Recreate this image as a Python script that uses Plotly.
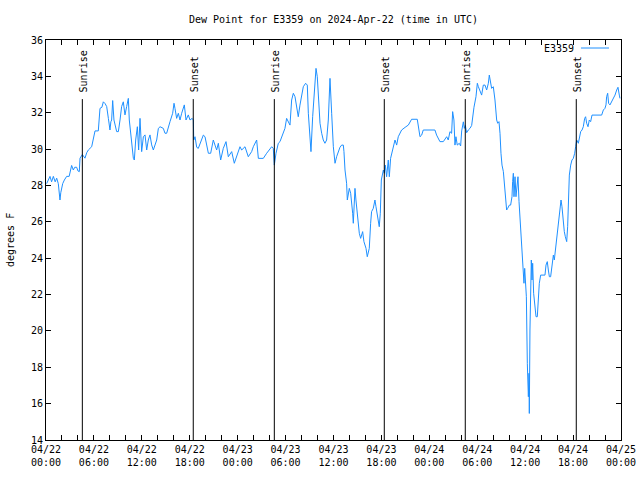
import pandas as pd
import plotly.graph_objects as go

start = pd.Timestamp("2024-04-22 00:00")
end = pd.Timestamp("2024-04-25 00:00")

# hours since 2024-04-22 00:00 UTC
hours = [
    0.08, 0.3, 0.5, 0.7, 0.92, 1.15, 1.34, 1.54, 1.65, 1.75, 1.85, 2.09, 2.3, 2.59, 2.9,
    3.21, 3.42, 3.6, 3.84, 4.0, 4.17, 4.26, 4.55, 4.7, 4.88, 5.1, 5.3, 5.72, 5.93, 6.14,
    6.55, 6.76, 7.0, 7.18, 7.4, 7.6, 7.81, 8.01, 8.12, 8.22, 8.35, 8.51, 8.85, 9.06, 9.27,
    9.47, 9.68, 9.89, 10.10, 10.31, 10.43, 10.60, 10.73, 10.94, 11.06, 11.23, 11.44, 11.60,
    11.77, 11.98, 12.19, 12.40, 12.61, 12.81, 13.02, 13.23, 13.44, 13.65, 13.86, 14.07,
    14.28, 14.69, 14.90, 15.11, 15.32, 15.53, 15.86, 16.03, 16.15, 16.36, 16.57, 16.78,
    16.99, 17.20, 17.32, 17.53, 17.82, 18.03, 18.3, 18.45, 18.5, 18.66, 18.87,
    19.07, 19.28, 19.70, 19.91, 20.33, 20.62, 20.95, 21.16, 21.37, 21.58, 21.87, 22.20,
    22.54, 22.83, 23.25, 23.58, 23.87, 24.29, 24.50, 24.92, 25.33, 25.75, 25.96, 26.38,
    26.59, 27.21, 27.63, 28.26, 28.46, 28.59, 28.80, 29.09, 29.30, 29.63, 29.92, 30.13,
    30.34, 30.55, 30.76, 30.97, 31.18, 31.39, 31.59, 31.80, 32.01, 32.22, 32.51, 32.72,
    32.85, 33.05, 33.18, 33.39, 33.56, 33.81, 33.97, 34.10, 34.31, 34.52, 34.72, 34.93,
    35.14, 35.35, 35.56, 35.77, 35.98, 36.19, 36.39, 36.81, 37.02, 37.23, 37.31, 37.44,
    37.64, 37.73, 37.98,
    38.15, 38.27, 38.40, 38.48, 38.69, 38.81, 38.98, 39.11, 39.23, 39.40, 39.65, 39.81,
    40.07, 40.23, 40.48, 40.65, 40.77, 40.98, 41.19, 41.32, 41.48, 41.61, 41.73, 41.86,
    41.99, 42.24, 42.36, 42.49, 42.65, 42.86, 42.99, 43.15, 43.40, 43.70, 43.91, 44.11,
    44.53, 44.74, 45.07, 45.37, 45.78, 46.49, 46.66, 46.83, 47.04, 47.24, 48.70, 48.91,
    49.33, 49.75, 50.17, 50.37, 50.58, 50.79, 50.92, 51.08, 51.21, 51.33, 51.50, 51.75,
    51.92,
    52.05, 52.26, 52.38, 52.51, 52.67, 52.88, 53.09, 53.30, 53.43, 53.59, 53.84, 54.01,
    54.14, 54.34, 54.55, 54.76, 54.97, 55.18, 55.39, 55.51, 55.68, 55.80, 56.01, 56.22,
    56.43, 56.56, 56.72, 56.85, 56.97, 57.10, 57.27, 57.39, 57.56, 57.68, 57.81, 58.02,
    58.18, 58.35, 58.43, 58.52, 58.60, 58.73, 58.85, 59.02, 59.10, 59.23, 59.35, 59.48,
    59.60, 59.73, 59.85, 59.94, 60.02, 60.15, 60.27, 60.40, 60.48, 60.52, 60.60, 60.69,
    60.77, 60.86, 60.94, 61.06, 61.19, 61.36, 61.52, 61.65, 61.77, 61.94, 62.27, 62.48,
    62.61, 62.77, 62.90, 63.03, 63.19, 63.36, 63.53, 63.65, 63.78, 63.94, 64.11, 64.28,
    64.36, 64.49, 64.61, 64.78, 64.90, 65.03, 65.20, 65.32, 65.45, 65.53, 65.70, 65.86,
    66.03, 66.20, 66.32, 66.45, 66.66, 66.78, 66.95, 67.12, 67.28, 67.45, 67.57, 67.70,
    67.87, 68.03, 68.20, 68.37, 68.74, 69.58, 69.79, 69.99, 70.12, 70.20, 70.33, 70.45,
    70.62, 70.83, 71.04, 71.25, 71.46, 71.62, 71.79, 71.87,
]

dew_point_f = [
    28.1, 28.3, 28.5, 28.2, 28.5, 28.2, 28.4, 28.1, 27.5, 27.2, 27.6, 28.1, 28.3, 28.5, 28.5,
    29.1, 28.85, 29.0, 29.0, 28.8, 28.76, 29.5, 29.7, 29.6, 29.5, 29.8, 29.95, 30.13, 30.68, 31.0,
    31.0, 32.24, 32.3, 32.6, 32.5, 32.34, 31.69, 31.05, 31.5, 31.6, 32.67, 31.6, 30.96, 30.96, 31.6,
    32.34, 32.6, 31.88, 32.34, 32.79, 31.6, 30.87, 30.32, 29.49, 29.4, 30.5, 31.23, 29.95,
    31.69, 29.86, 30.68, 30.78, 29.95, 30.5, 30.78, 30.23, 29.95, 30.23, 30.5, 31.14,
    31.23, 31.14, 30.87, 30.87, 31.23, 31.51, 31.97, 32.52, 32.24, 31.69, 31.97, 31.6,
    31.97, 32.24, 32.43, 31.6, 31.88, 31.6, 31.69, 31.6, 30.5, 30.68, 30.1,
    30.04, 30.32, 30.77, 30.68, 29.77, 29.77, 30.50, 30.22, 29.95, 30.32, 29.40, 30.04,
    30.41, 29.58, 29.86, 29.22, 29.58, 30.13, 29.95, 30.13, 29.58, 29.86, 30.13, 30.50,
    29.49, 29.49, 29.77, 30.13, 30.04, 29.12, 29.77, 30.32, 30.41, 30.87, 31.14, 31.69,
    31.51, 31.32, 32.70, 33.07, 32.88, 32.42, 31.78, 32.42, 33.07, 33.43, 33.62, 33.52,
    31.97, 30.68, 29.86, 31.78, 32.88, 34.44, 33.98, 32.88, 31.42, 30.87, 30.50, 30.32,
    30.50, 31.60, 33.89, 31.97, 30.13, 29.22, 29.58, 30.1, 30.22, 30.22, 29.86, 28.85,
    28.12, 27.20, 27.84,
    27.57, 27.11, 26.47, 25.92, 27.84, 27.20, 26.28, 26.01, 25.37, 25.09, 25.46, 24.91,
    24.54, 24.08, 24.54, 25.92, 26.56, 26.74, 27.20, 26.83, 26.47, 26.10, 25.73, 26.47,
    28.30, 28.85, 28.67, 29.12, 28.48, 29.40, 28.48, 29.49, 30.04, 30.50, 30.22, 30.68,
    31.05, 31.14, 31.23, 31.32, 31.64, 31.64, 31.05, 30.68, 30.77, 31.05, 31.05, 30.77,
    30.41, 30.41, 30.68, 30.50, 30.96, 30.87, 32.06, 31.60, 30.22, 30.68, 30.22, 30.32,
    30.17,
    31.0, 31.5, 31.14, 31.3, 30.9, 31.05, 31.14, 31.3, 31.87, 32.3, 32.88, 33.62,
    33.43, 33.16, 32.97, 33.52, 33.52, 33.25, 33.62, 34.07, 33.52, 33.34, 33.43, 32.70,
    31.60, 31.42, 31.51, 30.87, 29.77, 29.12, 28.76, 28.02, 27.47, 26.65, 26.74, 26.92,
    26.92, 27.38, 28.21, 28.67, 27.38, 28.48, 27.38, 28.02, 28.48, 27.11, 26.10, 25.00,
    24.08, 22.98, 22.62, 23.44, 22.62, 21.88, 18.22, 16.38, 17.67, 15.46, 20.05, 21.88,
    23.90, 22.80, 23.72, 22.07, 21.51, 20.78, 20.78, 21.88, 22.62, 23.07, 23.07, 23.07,
    23.62, 23.81, 23.35, 22.98, 22.98, 23.72, 24.17, 23.90, 24.45, 25.00, 25.64, 26.28,
    26.92, 27.20, 26.83, 25.92, 25.46, 25.18, 24.91, 25.73, 27.38, 28.57, 29.12, 29.40,
    29.49, 29.77, 30.13, 30.50, 30.32, 30.59, 30.96, 31.05, 31.23, 31.69, 31.78, 31.42,
    31.23, 31.60, 31.51, 31.87, 31.87, 31.87, 32.15, 32.24, 32.43, 32.88, 33.07, 32.52,
    32.43, 32.61, 32.79, 32.97, 33.25, 33.40, 32.97, 32.79,
]

sunrise_hours = [4.55, 28.59, 52.50]
sunset_hours = [18.44, 42.36, 66.40]

y_min, y_max = 14, 36
sun_line_top = 32.75

FONT = "DejaVu Sans Mono"
times = [start + pd.Timedelta(hours=h) for h in hours]

fig = go.Figure()
fig.add_trace(go.Scatter(
    x=times, y=dew_point_f, mode="lines", name="E3359",
    line=dict(color="#1E90FF", width=1), showlegend=False,
))

shapes = []
annotations = []
for label, hs in (("Sunrise", sunrise_hours), ("Sunset", sunset_hours)):
    for h in hs:
        t = start + pd.Timedelta(hours=h)
        shapes.append(dict(type="line", xref="x", yref="y", x0=t, x1=t,
                           y0=y_min, y1=sun_line_top,
                           line=dict(color="black", width=1)))
        annotations.append(dict(x=t, y=sun_line_top, xref="x", yref="y",
                                text=label, textangle=-90, showarrow=False,
                                xanchor="center", yanchor="bottom", xshift=1, yshift=5,
                                font=dict(family=FONT, size=10, color="black")))

# legend drawn gnuplot-style: text left of the sample line
annotations.append(dict(x=0.9217, y=0.98, xref="paper", yref="paper", text="E3359",
                        showarrow=False, xanchor="right", yanchor="middle",
                        font=dict(family=FONT, size=10, color="black")))
shapes.append(dict(type="line", xref="paper", yref="paper", x0=0.9304, x1=0.9791,
                   y0=0.98, y1=0.98, line=dict(color="#1E90FF", width=1)))

# y-axis title
annotations.append(dict(x=-0.0626, y=0.5, xref="paper", yref="paper", text="degrees F",
                        textangle=-90, showarrow=False, xanchor="center", yanchor="middle",
                        font=dict(family=FONT, size=10, color="black")))

axis_common = dict(showline=True, linecolor="black", linewidth=1, mirror="allticks",
                   ticks="inside", ticklen=5, tickcolor="black", showgrid=False,
                   zeroline=False, automargin=False,
                   tickfont=dict(family=FONT, size=10, color="black"))

fig.update_layout(
    width=640, height=480,
    margin=dict(l=46, r=19, t=40, b=40),
    paper_bgcolor="white", plot_bgcolor="white",
    title=dict(text="Dew Point for E3359 on 2024-Apr-22 (time in UTC)",
               x=0.5, xref="paper", xanchor="center",
               y=1 - 19 / 480, yref="container", yanchor="middle",
               font=dict(family=FONT, size=10, color="black"),
               automargin=False),
    xaxis=dict(type="date", range=[start, end], tick0=start,
               dtick=6 * 3600 * 1000, tickformat="%m/%d<br>%H:%M",
               minor=dict(dtick=2 * 3600 * 1000, ticks="inside", ticklen=5,
                          tickcolor="black", showgrid=False),
               **axis_common),
    yaxis=dict(range=[y_min, y_max], dtick=2, **axis_common),
    shapes=shapes,
    annotations=annotations,
)

# remove the default 8px page margin so the 640x480 figure fills the window exactly
fig.write_html("out.html", config={"displayModeBar": False},
               post_script="document.body.style.margin='0';document.body.style.overflow='hidden';")
